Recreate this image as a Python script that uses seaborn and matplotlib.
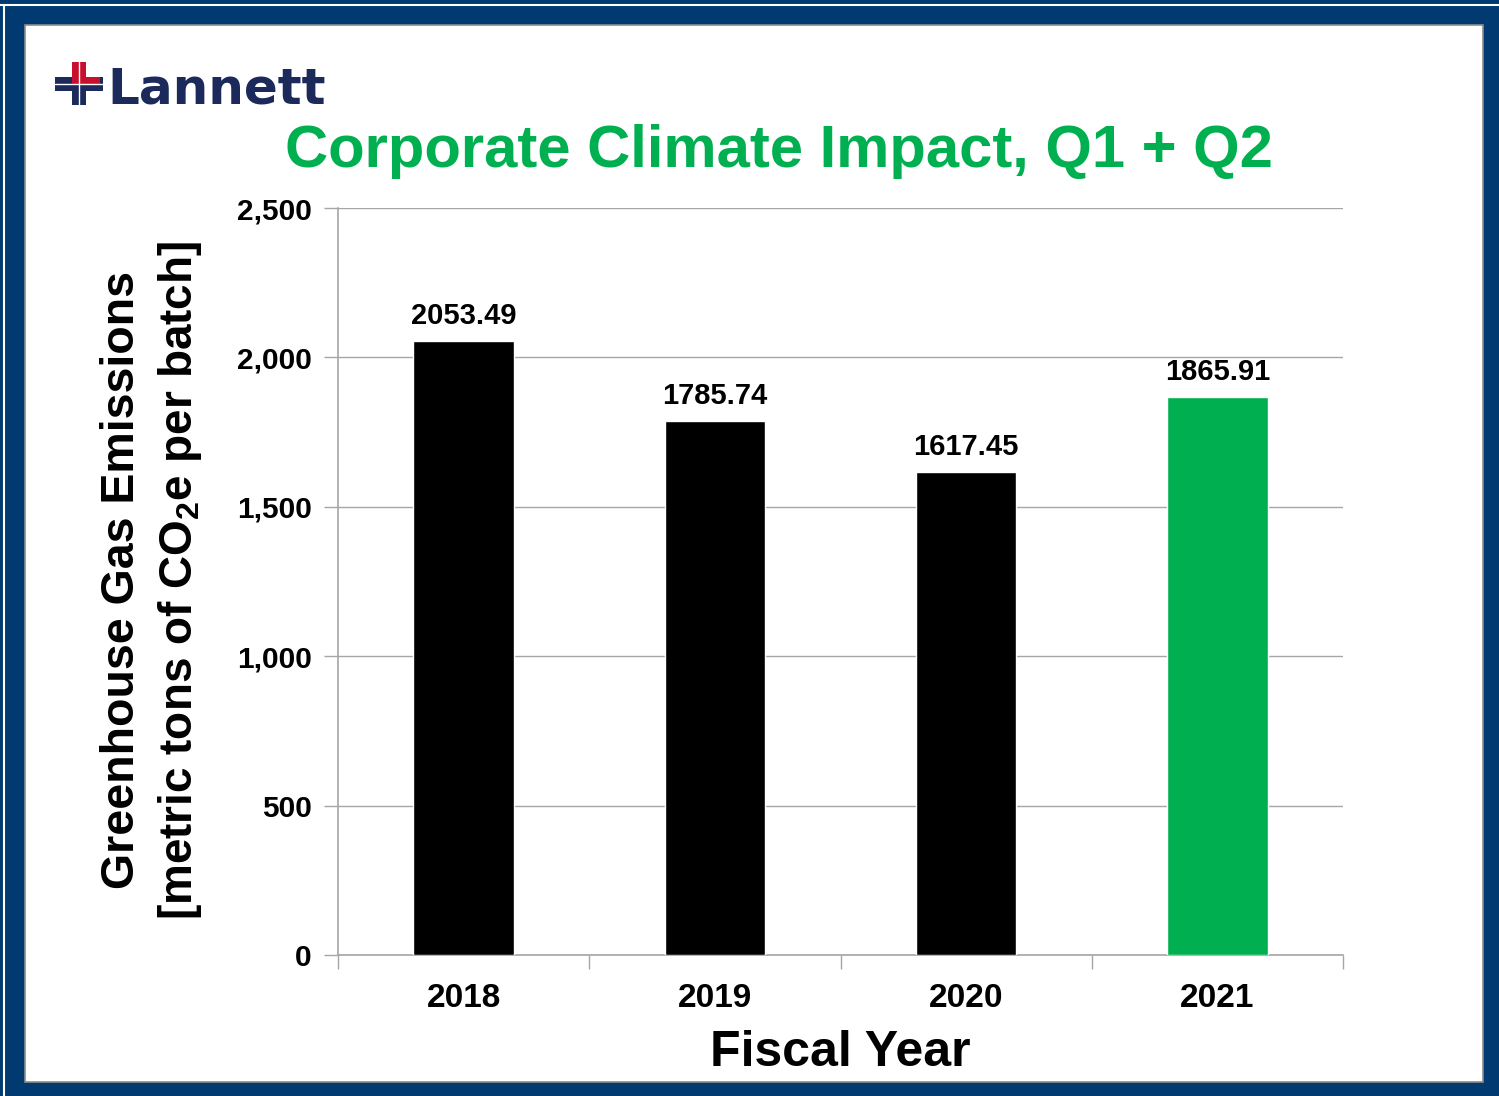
import matplotlib
matplotlib.use('Agg')
import matplotlib.pyplot as plt
import seaborn as sns
import pandas as pd
from matplotlib.patches import Rectangle
from matplotlib.lines import Line2D

# chart data
years = ['2018', '2019', '2020', '2021']
emissions = [2053.49, 1785.74, 1617.45, 1865.91]
bar_colors = ['#000000', '#000000', '#000000', '#00B050']
y_ticks = [0, 500, 1000, 1500, 2000, 2500]
y_tick_labels = ['0', '500', '1,000', '1,500', '2,000', '2,500']

df = pd.DataFrame({'year': years, 'emissions': emissions})

sns.set_theme(style='white')
plt.rcParams['font.family'] = ['Liberation Sans', 'DejaVu Sans']
plt.rcParams['font.weight'] = 'bold'
plt.rcParams['text.color'] = 'black'
plt.rcParams['axes.labelcolor'] = 'black'
plt.rcParams['xtick.labelcolor'] = 'black'
plt.rcParams['ytick.labelcolor'] = 'black'

W, H = 1499, 1096
fig = plt.figure(figsize=(W / 100, H / 100), dpi=100)
fig.patch.set_facecolor('#003A70')


def px(x, y):
    return x / W, 1 - y / H


# slide frame
fig.add_artist(Line2D([0, 1], [1 - 4.5 / H] * 2, transform=fig.transFigure, color='white', lw=1.5))
fig.add_artist(Line2D([4 / W] * 2, [0, 1 - 4.5 / H], transform=fig.transFigure, color='white', lw=1.5))
x0, y0 = px(25, 1082)
fig.add_artist(Rectangle((x0, y0), (1483 - 25) / W, (1082 - 25) / H, transform=fig.transFigure,
                         facecolor='white', edgecolor='#8C8C8C', lw=1.2, zorder=0))

# logo
navy = '#1B2A5A'
red = '#C8102E'
for (a, b, c, d, col) in [(55, 77, 103, 91, navy), (72, 62, 86, 105, navy),
                          (72, 62, 86, 84, red), (86, 77, 100, 84, red)]:
    lx, ly = px(a, d)
    fig.add_artist(Rectangle((lx, ly), (c - a) / W, (d - b) / H, transform=fig.transFigure,
                             facecolor=col, edgecolor='none'))
fig.add_artist(Line2D([55 / W, 103 / W], [1 - 84 / H] * 2, transform=fig.transFigure, color='white', lw=1))
fig.add_artist(Line2D([79 / W] * 2, [1 - 62 / H, 1 - 105 / H], transform=fig.transFigure, color='white', lw=1))
fig.text(*px(107, 103), 'Lannett', fontsize=36, fontweight='heavy', color=navy,
         family='DejaVu Sans', ha='left', va='baseline')

# title
fig.text(*px(779, 152), 'Corporate Climate Impact, Q1 + Q2', fontsize=43, fontweight='bold',
         color='#00B050', ha='center', va='center')

ax = fig.add_axes([338 / W, 1 - 955 / H, (1343 - 338) / W, (955 - 208) / H])
sns.barplot(data=df, x='year', y='emissions', hue='year', palette=bar_colors,
            legend=False, width=0.4, saturation=1, ax=ax, zorder=3)

ax.set_xlim(-0.5, 3.5)
ax.set_ylim(0, 2500)
ax.set_yticks(y_ticks)
ax.set_yticklabels(y_tick_labels, fontsize=21.5, fontweight='bold', color='black')
ax.set_xticks(range(4))
ax.set_xticklabels(years, fontsize=24, fontweight='bold', color='black')
ax.set_xticks([-0.5, 0.5, 1.5, 2.5, 3.5], minor=True)
ax.tick_params(axis='x', which='major', length=0, pad=20)
ax.tick_params(axis='x', which='minor', length=10, width=1, color='#A6A6A6', direction='out', bottom=True)
ax.tick_params(axis='y', length=10, width=1, color='#A6A6A6', direction='out', left=True, pad=9)
ax.yaxis.grid(True, color='#A6A6A6', lw=1, zorder=0)
ax.set_axisbelow(True)
for s in ['top', 'right']:
    ax.spines[s].set_visible(False)
for s in ['left', 'bottom']:
    ax.spines[s].set_color('#A6A6A6')
    ax.spines[s].set_linewidth(1.2)

for i, v in enumerate(emissions):
    ax.annotate(f'{v:.2f}', (i, v), xytext=(0, 8), textcoords='offset points',
                ha='center', va='bottom', fontsize=21, fontweight='bold', color='black')

ax.set_xlabel('Fiscal Year', fontsize=36, fontweight='bold', labelpad=12, color='black')
ax.set_ylabel('')
fig.text(*px(122, 580), 'Greenhouse Gas Emissions', fontsize=33.5, fontweight='bold',
         rotation=90, ha='center', va='center', color='black')
fig.text(*px(180, 580), r'[metric tons of CO$_\mathregular{2}$e per batch]', fontsize=33,
         fontweight='bold', rotation=90, ha='center', va='center', color='black')

fig.savefig('out.png', dpi=100, facecolor=fig.get_facecolor())
